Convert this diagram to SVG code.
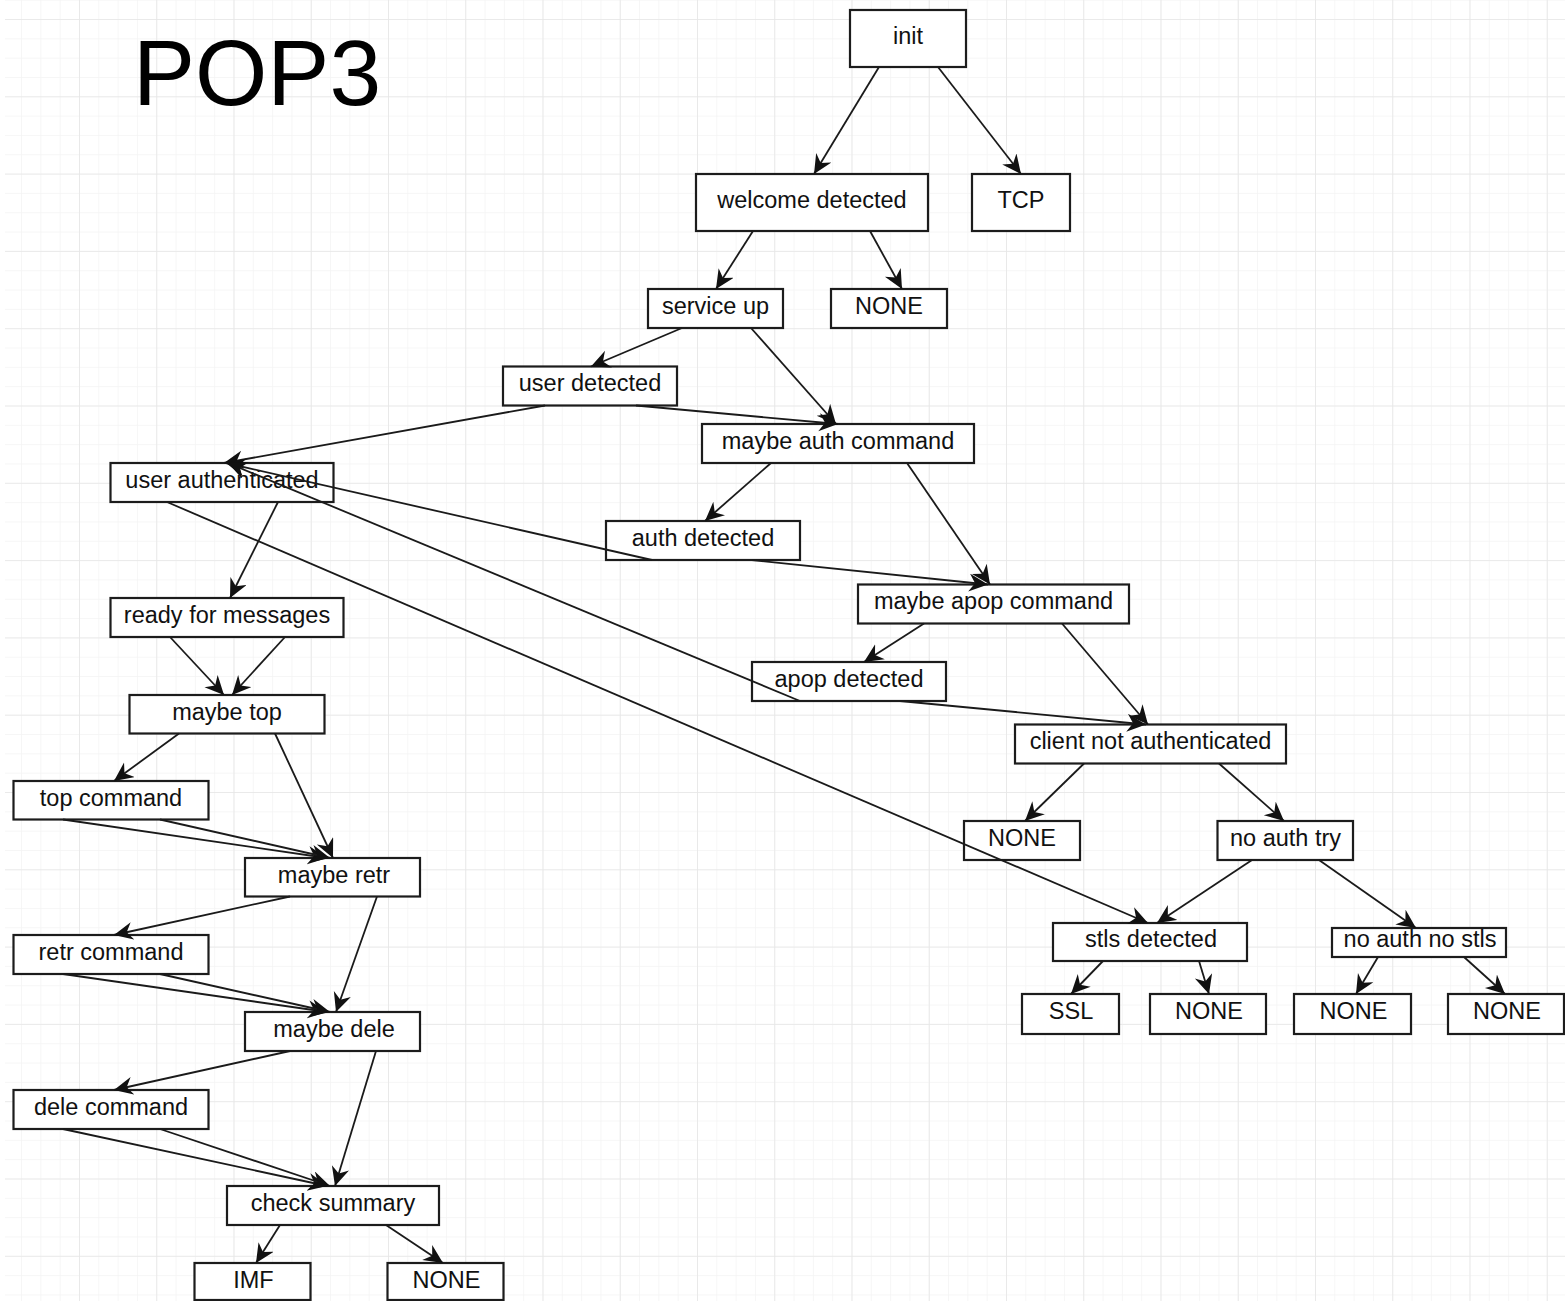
<svg xmlns="http://www.w3.org/2000/svg" width="1565" height="1301" viewBox="0 0 1565 1301">
  <defs>
    <pattern id="gridMinor" patternUnits="userSpaceOnUse" x="79" y="19" width="19.3125" height="19.325">
      <path d="M0,0 V19.325 M0,0 H19.3125" fill="none" stroke="#f4f4f4" stroke-width="1.5"/>
    </pattern>
    <pattern id="gridMajor" patternUnits="userSpaceOnUse" x="79" y="19" width="77.25" height="77.3">
      <path d="M0,0 V77.3 M0,0 H77.25" fill="none" stroke="#e6e6e6" stroke-width="1.6"/>
    </pattern>
    <marker id="arrow" markerUnits="userSpaceOnUse" markerWidth="21" markerHeight="19" refX="19" refY="9" orient="auto">
      <path d="M19,9 L0,0 L6,9 L0,18 Z" fill="#111"/>
    </marker>
    <style>
      .node rect { fill: #fff; stroke: #1c1c1c; stroke-width: 2.2; }
      .node text { font-family: "Liberation Sans", Arial, sans-serif; font-size: 23.5px; fill: #111; text-anchor: middle; }
      #connectors line { stroke: #1a1a1a; stroke-width: 1.8; marker-end: url(#arrow); }
      .title { font-family: "Liberation Sans", Arial, sans-serif; font-size: 93px; fill: #000; }
    </style>
  </defs>

  <!-- background grid -->
  <rect width="1565" height="1301" fill="#fff"/>
  <rect x="5" y="0" width="1560" height="1301" fill="url(#gridMinor)"/>
  <rect x="5" y="0" width="1560" height="1301" fill="url(#gridMajor)"/>

  <text class="title" x="133" y="105">POP3</text>

  <!-- state nodes -->
  <g id="n-init" class="node"><rect x="850" y="10" width="116" height="57"/><text x="908" y="43.5">init</text></g>
  <g id="n-welcome" class="node"><rect x="696" y="174" width="232" height="57"/><text x="812" y="207.5">welcome detected</text></g>
  <g id="n-tcp" class="node"><rect x="972" y="174" width="98" height="57"/><text x="1021" y="207.5">TCP</text></g>
  <g id="n-service-up" class="node"><rect x="648" y="289" width="135" height="39"/><text x="715.5" y="313.5">service up</text></g>
  <g id="n-none-1" class="node"><rect x="831" y="289" width="116" height="39"/><text x="889" y="313.5">NONE</text></g>
  <g id="n-user-detected" class="node"><rect x="503" y="366.5" width="174" height="39"/><text x="590" y="391">user detected</text></g>
  <g id="n-maybe-auth" class="node"><rect x="702" y="424" width="272" height="39"/><text x="838" y="448.5">maybe auth command</text></g>
  <g id="n-user-auth" class="node"><rect x="110.5" y="463" width="223" height="39"/><text x="222" y="487.5">user authenticated</text></g>
  <g id="n-auth-detected" class="node"><rect x="606" y="521" width="194" height="39"/><text x="703" y="545.5">auth detected</text></g>
  <g id="n-ready" class="node"><rect x="110.5" y="598" width="233" height="39"/><text x="227" y="622.5">ready for messages</text></g>
  <g id="n-maybe-apop" class="node"><rect x="858" y="584.5" width="271" height="39"/><text x="993.5" y="609">maybe apop command</text></g>
  <g id="n-apop-detected" class="node"><rect x="752" y="662" width="194" height="39"/><text x="849" y="686.5">apop detected</text></g>
  <g id="n-maybe-top" class="node"><rect x="129.5" y="695" width="195" height="38.5"/><text x="227" y="719.5">maybe top</text></g>
  <g id="n-client-not-auth" class="node"><rect x="1015" y="724.5" width="271" height="39"/><text x="1150.5" y="749">client not authenticated</text></g>
  <g id="n-top-command" class="node"><rect x="13.5" y="781" width="195" height="38.5"/><text x="111" y="805.5">top command</text></g>
  <g id="n-none-2" class="node"><rect x="964" y="821" width="116" height="39"/><text x="1022" y="845.5">NONE</text></g>
  <g id="n-no-auth-try" class="node"><rect x="1217.5" y="821" width="135.5" height="39"/><text x="1285.5" y="845.5">no auth try</text></g>
  <g id="n-maybe-retr" class="node"><rect x="245" y="858" width="175" height="38.5"/><text x="334" y="882.5">maybe retr</text></g>
  <g id="n-stls" class="node"><rect x="1053" y="923" width="194" height="38"/><text x="1151" y="947">stls detected</text></g>
  <g id="n-no-auth-no-stls" class="node"><rect x="1332" y="928" width="174" height="29"/><text x="1420" y="947">no auth no stls</text></g>
  <g id="n-retr-command" class="node"><rect x="13.5" y="935" width="195" height="39"/><text x="111" y="959.5">retr command</text></g>
  <g id="n-ssl" class="node"><rect x="1022" y="994" width="97" height="40"/><text x="1071" y="1019">SSL</text></g>
  <g id="n-none-3" class="node"><rect x="1150" y="994" width="116" height="40"/><text x="1209" y="1019">NONE</text></g>
  <g id="n-none-4" class="node"><rect x="1294" y="994" width="117" height="40"/><text x="1353.5" y="1019">NONE</text></g>
  <g id="n-none-5" class="node"><rect x="1448" y="994" width="116" height="40"/><text x="1507" y="1019">NONE</text></g>
  <g id="n-maybe-dele" class="node"><rect x="245" y="1012" width="175" height="39"/><text x="334" y="1036.5">maybe dele</text></g>
  <g id="n-dele-command" class="node"><rect x="13.5" y="1090" width="195" height="39"/><text x="111" y="1114.5">dele command</text></g>
  <g id="n-check-summary" class="node"><rect x="227" y="1186" width="212" height="39"/><text x="333" y="1210.5">check summary</text></g>
  <g id="n-imf" class="node"><rect x="194.5" y="1263" width="116" height="37"/><text x="253.5" y="1288">IMF</text></g>
  <g id="n-none-6" class="node"><rect x="387.5" y="1263" width="116" height="37"/><text x="446.5" y="1288">NONE</text></g>

  <!-- transitions -->
  <g id="connectors">
    <line x1="879" y1="67" x2="814" y2="174"/>
    <line x1="938" y1="67" x2="1021" y2="174"/>
    <line x1="753" y1="231" x2="716" y2="289"/>
    <line x1="870" y1="231" x2="902" y2="289"/>
    <line x1="682" y1="328" x2="591" y2="366.5"/>
    <line x1="751" y1="328" x2="836" y2="424"/>
    <line x1="545" y1="405.5" x2="224" y2="463"/>
    <line x1="636" y1="405.5" x2="838" y2="424"/>
    <line x1="278" y1="502" x2="230" y2="598"/>
    <line x1="167" y1="502" x2="1148" y2="923"/>
    <line x1="771" y1="463" x2="705" y2="521"/>
    <line x1="907" y1="463" x2="990" y2="584.5"/>
    <line x1="652" y1="560" x2="226" y2="463"/>
    <line x1="752" y1="560" x2="988" y2="584.5"/>
    <line x1="924" y1="623.5" x2="864" y2="662"/>
    <line x1="1062" y1="623.5" x2="1148" y2="724.5"/>
    <line x1="800" y1="701" x2="228" y2="463"/>
    <line x1="900" y1="701" x2="1146" y2="724.5"/>
    <line x1="1084" y1="763.5" x2="1025" y2="821"/>
    <line x1="1219" y1="763.5" x2="1284" y2="821"/>
    <line x1="1252" y1="860" x2="1157" y2="923"/>
    <line x1="1319" y1="860" x2="1416" y2="928"/>
    <line x1="1103" y1="961" x2="1071" y2="994"/>
    <line x1="1199" y1="961" x2="1209" y2="994"/>
    <line x1="1378" y1="957" x2="1356" y2="994"/>
    <line x1="1464" y1="957" x2="1505" y2="994"/>
    <line x1="170" y1="637" x2="224" y2="695"/>
    <line x1="285" y1="637" x2="232" y2="695"/>
    <line x1="179" y1="733.5" x2="114" y2="781"/>
    <line x1="275" y1="733.5" x2="333" y2="858"/>
    <line x1="63" y1="819.5" x2="327" y2="858"/>
    <line x1="160" y1="819.5" x2="330" y2="858"/>
    <line x1="290" y1="896.5" x2="114" y2="935"/>
    <line x1="377" y1="896.5" x2="336" y2="1012"/>
    <line x1="63" y1="974" x2="327" y2="1012"/>
    <line x1="160" y1="974" x2="330" y2="1012"/>
    <line x1="290" y1="1051" x2="114" y2="1090"/>
    <line x1="376" y1="1051" x2="335" y2="1186"/>
    <line x1="63" y1="1129" x2="327" y2="1186"/>
    <line x1="160" y1="1129" x2="330" y2="1186"/>
    <line x1="280" y1="1225" x2="256" y2="1263"/>
    <line x1="386" y1="1225" x2="443" y2="1263"/>
  </g>
</svg>
